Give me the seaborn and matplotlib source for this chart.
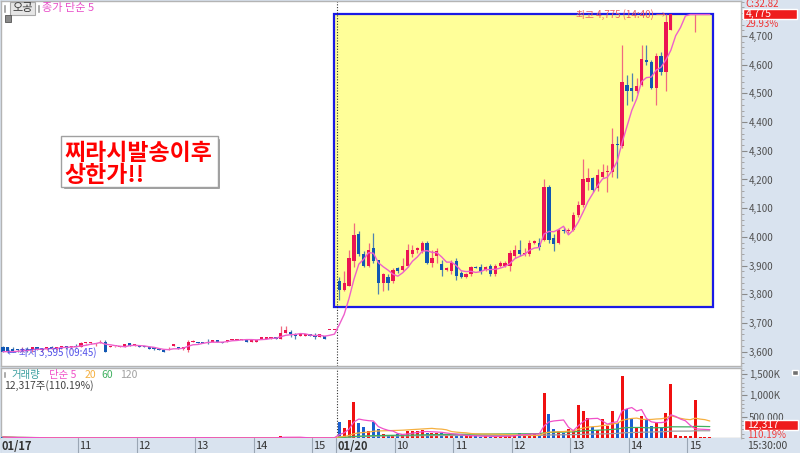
import numpy as np
import pandas as pd
import matplotlib
matplotlib.use("Agg")
import matplotlib.pyplot as plt
from matplotlib.patches import Rectangle
from matplotlib.ticker import FuncFormatter, MultipleLocator
import seaborn as sns

sns.set_theme(style="white")
plt.rcParams['font.family'] = ['Noto Sans CJK KR', 'DejaVu Sans']
plt.rcParams['axes.unicode_minus'] = False

# 01/17, 5 min candles 09:40 ~ 15:20
d1_open = [3615, 3615, 3610, 3610, 3605, 3610, 3605, 3615, 3605, 3610,
           3615, 3610, 3615, 3620, 3615, 3620, 3615, 3630, 3630, 3625,
           3630, 3635, 3615, 3620, 3615, 3615, 3630, 3620, 3620, 3620,
           3615, 3615, 3610, 3605, 3605, 3620, 3615, 3610, 3605, 3635,
           3635, 3635, 3635, 3635, 3640, 3635, 3635, 3640, 3640, 3640,
           3640, 3635, 3635, 3645, 3645, 3645, 3650, 3645, 3665, 3670,
           3660, 3655, 3655, 3660, 3655, 3650, 3655, 3675, 3675]
d1_high = [3620, 3615, 3615, 3610, 3615, 3615, 3615, 3615, 3610, 3615,
           3620, 3615, 3620, 3620, 3620, 3625, 3635, 3630, 3635, 3630,
           3640, 3640, 3620, 3620, 3620, 3625, 3630, 3625, 3620, 3620,
           3620, 3615, 3610, 3605, 3615, 3625, 3615, 3615, 3640, 3640,
           3635, 3635, 3645, 3640, 3640, 3635, 3640, 3645, 3645, 3645,
           3640, 3640, 3640, 3650, 3650, 3650, 3650, 3690, 3690, 3675,
           3665, 3660, 3660, 3660, 3665, 3660, 3655, 3675, 3675]
d1_low = [3600, 3595, 3600, 3600, 3600, 3600, 3600, 3605, 3600, 3605,
          3610, 3605, 3610, 3610, 3610, 3615, 3615, 3625, 3625, 3620,
          3630, 3600, 3615, 3615, 3615, 3615, 3620, 3620, 3615, 3615,
          3610, 3605, 3605, 3600, 3605, 3620, 3610, 3605, 3600, 3635,
          3630, 3630, 3625, 3635, 3635, 3630, 3635, 3640, 3640, 3640,
          3635, 3635, 3635, 3645, 3645, 3645, 3645, 3645, 3665, 3650,
          3645, 3655, 3655, 3655, 3645, 3650, 3645, 3675, 3675]
d1_close = [3600, 3600, 3600, 3605, 3610, 3605, 3615, 3605, 3610, 3615,
            3610, 3615, 3620, 3615, 3620, 3615, 3630, 3630, 3635, 3630,
            3635, 3600, 3620, 3620, 3620, 3625, 3620, 3625, 3615, 3615,
            3610, 3610, 3605, 3600, 3610, 3625, 3610, 3615, 3635, 3635,
            3630, 3630, 3630, 3640, 3635, 3630, 3640, 3645, 3645, 3645,
            3635, 3640, 3640, 3650, 3650, 3650, 3645, 3665, 3675, 3660,
            3655, 3660, 3660, 3655, 3650, 3660, 3645, 3675, 3675]
d1_vol = [25, 12, 8, 6, 5, 6, 5, 4, 5, 4,
          4, 5, 4, 3, 4, 3, 6, 3, 4, 3,
          5, 15, 4, 3, 3, 5, 4, 3, 3, 3,
          3, 3, 4, 4, 3, 4, 3, 3, 20, 3,
          3, 3, 10, 3, 3, 3, 3, 3, 4, 3,
          3, 3, 3, 10, 3, 3, 3, 45, 30, 8,
          5, 4, 3, 3, 4, 12, 5, 4, 3]

# 01/20, 5 min candles 09:00 ~ 15:20
d2_open = [3845, 3815, 3830, 3915, 4010, 3940, 3900, 3960, 3920, 3840,
           3860, 3845, 3890, 3885, 3900, 3940, 3955, 3950, 3980, 3910,
           3935, 3905, 3885, 3880, 3915, 3875, 3860, 3870, 3895, 3895,
           3885, 3900, 3870, 3900, 3900, 3900, 3935, 3955, 3940, 3940,
           3980, 3980, 3990, 4175, 3995, 3980, 4025, 4020, 4025, 4075,
           4110, 4190, 4205, 4170, 4210, 4225, 4225, 4325, 4315, 4530,
           4520, 4510, 4530, 4615, 4610, 4520, 4630, 4575, 4720, 4775,
           4775, 4775, 4775, 4775, 4775, 4775, 4775]
d2_high = [3860, 3880, 3955, 4050, 4020, 3950, 3980, 4015, 3920, 3875,
           3870, 3890, 3895, 3925, 3975, 3970, 3965, 3985, 3985, 3955,
           3960, 3920, 3895, 3920, 3925, 3880, 3875, 3900, 3900, 3905,
           3900, 3905, 3905, 3915, 3915, 3955, 3970, 3990, 3960, 3990,
           3990, 3995, 4200, 4180, 4010, 4030, 4035, 4030, 4085, 4125,
           4270, 4240, 4210, 4235, 4255, 4250, 4380, 4350, 4670, 4565,
           4570, 4555, 4670, 4670, 4615, 4640, 4645, 4775, 4775, 4775,
           4775, 4775, 4775, 4775, 4775, 4775, 4775]
d2_low = [3780, 3810, 3830, 3895, 3935, 3895, 3895, 3910, 3800, 3810,
          3815, 3840, 3875, 3880, 3895, 3930, 3945, 3945, 3905, 3895,
          3910, 3865, 3880, 3870, 3850, 3855, 3855, 3865, 3890, 3870,
          3880, 3865, 3865, 3895, 3895, 3880, 3925, 3935, 3935, 3935,
          3975, 3955, 3985, 3980, 3950, 3975, 4015, 4015, 4020, 4070,
          4105, 4165, 4155, 4160, 4205, 4155, 4210, 4205, 4310, 4460,
          4475, 4500, 4525, 4600, 4515, 4460, 4565, 4510, 4720, 4775,
          4775, 4775, 4775, 4715, 4775, 4775, 4775]
d2_close = [3815, 3840, 3925, 4005, 3940, 3900, 3955, 3915, 3840, 3870,
            3840, 3885, 3880, 3900, 3955, 3955, 3960, 3980, 3910, 3925,
            3950, 3885, 3890, 3910, 3865, 3860, 3870, 3895, 3890, 3880,
            3895, 3870, 3900, 3910, 3910, 3945, 3955, 3940, 3945, 3980,
            3985, 3965, 4175, 3990, 3975, 4025, 4020, 4025, 4075, 4110,
            4200, 4205, 4165, 4215, 4225, 4230, 4325, 4320, 4540, 4510,
            4510, 4525, 4620, 4610, 4520, 4630, 4575, 4750, 4775, 4775,
            4775, 4775, 4775, 4775, 4775, 4775, 4775]
d2_vol = [369, 231, 430, 846, 346, 254, 154, 385, 200, 92,
          70, 70, 92, 92, 154, 154, 154, 177, 123, 123,
          123, 123, 92, 46, 77, 46, 46, 46, 46, 31,
          46, 31, 31, 46, 46, 62, 77, 123, 77, 100,
          100, 62, 1060, 560, 215, 154, 123, 215, 154, 770,
          640, 460, 254, 177, 446, 292, 638, 346, 1460, 677,
          446, 238, 508, 423, 277, 354, 238, 585, 1270, 77,
          46, 38, 46, 880, 25, 20, 12.3]

tick_pos = [0, 16, 28, 40, 52, 64, 69, 81, 93, 105, 117, 129, 141]
tick_lab = ['01/17', '11', '12', '13', '14', '15', '01/20',
            '10', '11', '12', '13', '14', '15']

df = pd.DataFrame({
    'open': d1_open + d2_open, 'high': d1_high + d2_high,
    'low': d1_low + d2_low, 'close': d1_close + d2_close,
    'vol': d1_vol + d2_vol})
df['x'] = np.arange(len(df))
df['ma5'] = df['close'].rolling(5, min_periods=1).mean()
for n in [5, 20, 60, 120]:
    df[f'vma{n}'] = df['vol'].rolling(n, min_periods=1).mean()
up = df['close'] >= df['open']

W, H = 800, 453
fig = plt.figure(figsize=(8, 4.53), dpi=100)
fig.patch.set_facecolor('#d9e3ef')


def fax(l, t, r, b):
    return fig.add_axes([l / W, 1 - b / H, (r - l) / W, (b - t) / H])


def ftext(x, y, s, **kw):
    kw.setdefault('va', 'center')
    fig.text(x / W, 1 - y / H, s, **kw)


def frect(l, t, r, b, **kw):
    fig.patches.append(Rectangle((l / W, 1 - b / H), (r - l) / W, (b - t) / H,
                                 transform=fig.transFigure, figure=fig, **kw))


ax = fax(1, 1, 741, 366)
axv = fax(1, 368, 741, 438)
axt = fax(1, 438, 741, 453)
XL = (-0.4, 151.4)

# ---- price pane
ax.set_facecolor('white')
ax.add_patch(Rectangle((67.9, 3756), 77.75, 1019, facecolor='#ffff99',
                       edgecolor='#1a1ae6', lw=1.6, zorder=1))
ax.axvline(68.5, color='#333333', ls=(0, (1, 1.5)), lw=0.8, zorder=2)
ax.vlines(df['x'][up], df['low'][up], df['high'][up], color='#f06a80', lw=0.9, zorder=3)
ax.vlines(df['x'][~up], df['low'][~up], df['high'][~up], color='#4f82b0', lw=0.9, zorder=3)
body = (df['close'] - df['open']).abs().clip(lower=2.5)
bot = df[['open', 'close']].min(axis=1)
ax.bar(df['x'][up], body[up], bottom=bot[up], width=0.66, color='#eb1454',
       edgecolor='none', linewidth=0, zorder=4)
ax.bar(df['x'][~up], body[~up], bottom=bot[~up], width=0.66, color='#1257b4',
       edgecolor='none', linewidth=0, zorder=4)
sns.lineplot(data=df, x='x', y='ma5', ax=ax, color='#ee5fcc', lw=1, zorder=5)
ax.text(136, 4775, '최고 4,775 (14:40) →', ha='right', va='center',
        color='#f06060', fontsize=7, zorder=6)
ax.text(0.8, 3598, '← 최저 3,595 (09:45)', ha='left', va='center',
        color='#5050e8', fontsize=7, zorder=6)
ax.set_xlim(*XL)
ax.set_ylim(3550, 4822)
ax.set_xticks([])
ax.yaxis.tick_right()
ax.set_yticks(range(3600, 4701, 100))
ax.yaxis.set_minor_locator(MultipleLocator(20))
ax.yaxis.set_major_formatter(FuncFormatter(lambda v, p: f'{int(v):,}'))
ax.tick_params(axis='y', which='major', right=True, length=4, width=0.8,
               color='#8a8a8a', labelsize=7, labelcolor='#505050', pad=1.5)
ax.tick_params(axis='y', which='minor', right=True, length=2, width=0.6, color='#9a9a9a')
ax.set_xlabel('')
ax.set_ylabel('')

# ---- volume pane
axv.set_facecolor('white')
axv.axvline(68.5, color='#333333', ls=(0, (1, 1.5)), lw=0.8, zorder=2)
axv.bar(df['x'][up], df['vol'][up], width=0.62, color='#f01010',
        edgecolor='none', linewidth=0, zorder=3)
axv.bar(df['x'][~up], df['vol'][~up], width=0.62, color='#1a5fd0',
        edgecolor='none', linewidth=0, zorder=3)
for n, c in [(120, '#a0a0a0'), (60, '#40b060'), (20, '#f5b040'), (5, '#f050c8')]:
    sns.lineplot(data=df, x='x', y=f'vma{n}', ax=axv, color=c, lw=0.9, zorder=4)
axv.set_xlim(*XL)
axv.set_ylim(0, 1640)
axv.set_xticks([])
axv.yaxis.tick_right()
axv.set_yticks([500, 1000, 1500])
axv.set_yticklabels(['500,000', '1,000K', '1,500K'])
axv.yaxis.set_minor_locator(MultipleLocator(100))
axv.tick_params(axis='y', which='major', right=True, length=4, width=0.8,
                color='#8a8a8a', labelsize=7, labelcolor='#505050', pad=1.5)
axv.tick_params(axis='y', which='minor', right=True, length=2, width=0.6, color='#9a9a9a')
axv.set_xlabel('')
axv.set_ylabel('')

for a in (ax, axv):
    for s in a.spines.values():
        s.set_color('#b4b4b4')
        s.set_linewidth(1)

# ---- time strip
axt.set_facecolor('#d9e3ef')
axt.set_xlim(*XL)
axt.set_ylim(0, 1)
axt.set_xticks([])
axt.set_yticks([])
for s in axt.spines.values():
    s.set_visible(False)
for p, lab in zip(tick_pos, tick_lab):
    axt.axvline(p - 0.6, color='#9aa6b4', lw=0.8)
    axt.text(p - 0.3, 0.45, lab, ha='left', va='center', fontsize=8, color='#333333',
             fontweight='bold' if '/' in lab else 'normal')

# ---- header texts
frect(3, 4, 6, 13, facecolor='#9a9a9a')
frect(10, 2, 35, 15, facecolor='#e6e6e6', edgecolor='#a8a8a8', lw=0.8)
ftext(22.5, 8.5, '오공', ha='center', fontsize=8, color='#333333')
frect(37, 4, 40, 13, facecolor='#9a9a9a')
ftext(42, 8.5, '종가 단순 5', fontsize=8, color='#e84fc8')
frect(5, 15, 11, 22, facecolor='#8a8a8a', edgecolor='#555555', lw=0.6)

# memo box
frect(63, 138, 220, 189, facecolor='#8c8c8c', zorder=2)
frect(61, 136, 218, 187, facecolor='white', edgecolor='#a0a0a0', lw=1, zorder=3)
ftext(64, 153, '찌라시발송이후', fontsize=16.5, color='#ff0000', fontweight='bold', zorder=4)
ftext(64, 175, '상한가!!', fontsize=16.5, color='#ff0000', fontweight='bold', zorder=4)

frect(3, 371, 6, 378, facecolor='#9a9a9a')
ftext(11, 375, '거래량', fontsize=7.5, color='#3c9fa0')
ftext(49, 375, '단순 5', fontsize=7.5, color='#f050c8')
ftext(85, 375, '20', fontsize=7.5, color='#f5b040')
ftext(101, 375, '60', fontsize=7.5, color='#40b060')
ftext(120, 375, '120', fontsize=7.5, color='#a0a0a0')
ftext(4, 386, '12,317주(110.19%)', fontsize=7.5, color='#444444')

# ---- right panel labels
ftext(745, 4, 'C:32.82', fontsize=7, color='#f03030')
frect(743, 9, 797, 19, facecolor='#ee1c1c', zorder=10)
ftext(746, 14, '4,775', fontsize=7.5, color='white', zorder=11)
ftext(746, 24, '29.93%', fontsize=7, color='#f03030')
frect(744, 420, 798, 430, facecolor='#ee1c1c', zorder=10)
ftext(747, 425, '12,317', fontsize=7.5, color='white', zorder=11)
ftext(747, 435, '110.19%', fontsize=7, color='#f04040', zorder=11)
ftext(747, 446, '15:30:00', fontsize=7.5, color='#444444')
frect(792, 370, 798, 375, facecolor='#707070')

fig.savefig('out.png', dpi=100, facecolor=fig.get_facecolor())
